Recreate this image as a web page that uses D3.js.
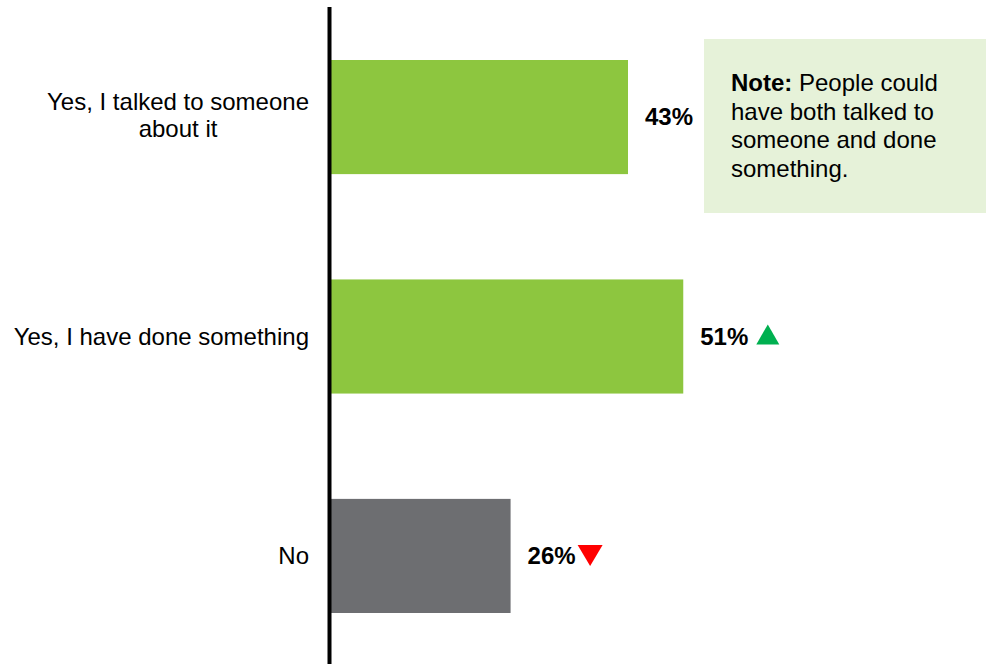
<!DOCTYPE html>
<html>
<head>
<meta charset="utf-8">
<script src="https://cdn.jsdelivr.net/npm/d3@7"></script>
<style>
  html, body { margin: 0; padding: 0; background: #ffffff; }
  svg { display: block; font-family: "Liberation Sans", Arial, Helvetica, sans-serif; }
</style>
</head>
<body>
<svg id="chart" width="986" height="664"></svg>
<script>
// ---- data ----
const categories = [
  ["Yes, I talked to someone", "about it"],
  ["Yes, I have done something"],
  ["No"]
];
const categoryKeys = ["talked", "done", "no"];
const values = [43, 51, 26];
const changes = ["none", "up", "down"];
const barKinds = ["yes", "yes", "no"];
const noteBold = "Note:";
const noteLines = [" People could", "have both talked to", "someone and done", "something."];

// ---- setup ----
const W = 986, H = 664;
const svg = d3.select("#chart");
const fontSize = 24;

const x = d3.scaleLinear().domain([0, 100]).range([331, 331 + 690.7]);
const y = d3.scaleBand().domain(categoryKeys).range([8, 665]).paddingInner(0.48).paddingOuter(0.237);
const barColor = d3.scaleOrdinal().domain(["yes", "no"]).range(["#8DC63F", "#6D6E71"]);

// bars
svg.append("g").selectAll("rect").data(values).join("rect")
  .attr("x", x(0))
  .attr("y", (d, i) => y(categoryKeys[i]))
  .attr("width", d => x(d) - x(0))
  .attr("height", y.bandwidth())
  .attr("fill", (d, i) => barColor(barKinds[i]));

// axis line
svg.append("line")
  .attr("x1", x(0) - 1.5).attr("x2", x(0) - 1.5)
  .attr("y1", 7).attr("y2", H)
  .attr("stroke", "#000").attr("stroke-width", 4);

// category labels (block right-aligned, lines centred within block)
const lineH = 27;
const labelRight = 309;
const catG = svg.append("g");
categories.forEach((lines, i) => {
  const cy = y(categoryKeys[i]) + y.bandwidth() / 2;
  const t = catG.append("text")
    .attr("font-size", fontSize)
    .attr("fill", "#000");
  const offset0 = -(lines.length - 1) * lineH / 2 + 8.4 - (lines.length > 1 ? 2 : 0);
  const spans = lines.map((ln, j) =>
    t.append("tspan").attr("y", cy + offset0 + j * lineH).text(ln));
  const maxW = d3.max(spans, s => s.node().getComputedTextLength());
  const cx = labelRight - maxW / 2;
  spans.forEach(s => s.attr("x", cx).attr("text-anchor", "middle"));
});

// value labels + change markers
const valG = svg.append("g");
values.forEach((v, i) => {
  const cy = y(categoryKeys[i]) + y.bandwidth() / 2;
  const tx = x(v) + 17;
  const t = valG.append("text")
    .attr("x", tx)
    .attr("y", cy + 8.4)
    .attr("font-size", fontSize)
    .attr("font-weight", "bold")
    .attr("fill", "#000")
    .text(v + "%");
  const tw = t.node().getComputedTextLength();
  if (changes[i] === "up") {
    const x0 = tx + tw + 8, w = 23, h = 20, top = cy - 12;
    valG.append("path")
      .attr("d", `M${x0},${top + h} L${x0 + w / 2},${top} L${x0 + w},${top + h} Z`)
      .attr("fill", "#00B050");
  } else if (changes[i] === "down") {
    const x0 = tx + tw + 2, w = 25, h = 21, top = cy - 11;
    valG.append("path")
      .attr("d", `M${x0},${top} L${x0 + w},${top} L${x0 + w / 2},${top + h} Z`)
      .attr("fill", "#FF0000");
  }
});

// note box
const noteG = svg.append("g");
noteG.append("rect")
  .attr("x", 704).attr("y", 39).attr("width", W - 704).attr("height", 174)
  .attr("fill", "#E6F2D9");
const nt = noteG.append("text")
  .attr("font-size", fontSize).attr("fill", "#000");
const first = nt.append("tspan").attr("x", 731).attr("y", 91);
first.append("tspan").attr("font-weight", "bold").text(noteBold);
first.append("tspan").text(noteLines[0]);
noteLines.slice(1).forEach((ln, j) => {
  nt.append("tspan").attr("x", 731).attr("y", 91 + (j + 1) * 28.7).text(ln);
});
</script>
</body>
</html>
